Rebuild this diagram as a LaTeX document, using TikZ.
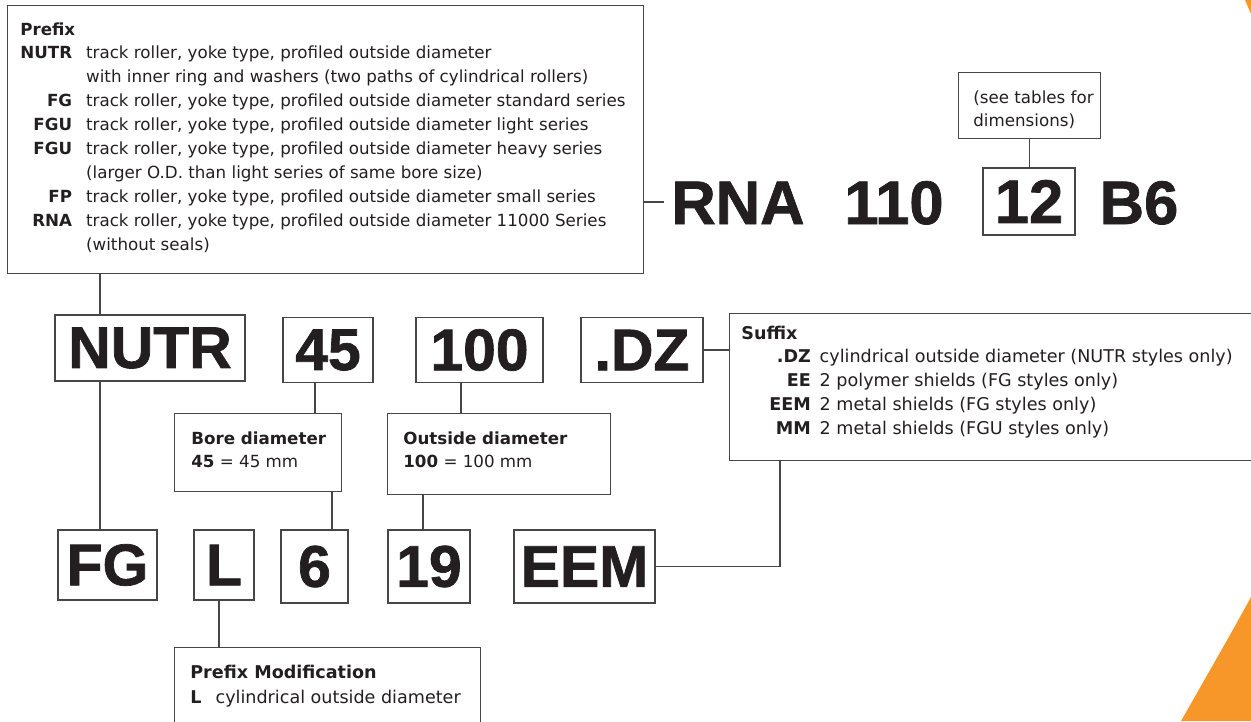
\documentclass[tikz,border=0pt]{standalone}
\usepackage{fontspec}
\setmainfont{DejaVu Sans}
\newfontfamily\codefont{Liberation Sans Bold}[FakeBold=1.2]
\usetikzlibrary{positioning}
\definecolor{tkorange}{RGB}{247,151,41}
\definecolor{ink}{RGB}{35,31,32}
\definecolor{rulegray}{RGB}{70,70,70}
\tikzset{
  wd/.style      ={minimum width=#1*0.02cm},
  ht/.style      ={minimum height=#1*0.02cm},
  codebox/.style ={draw=rulegray, line width=0.8pt, inner sep=0pt, text=ink,
                   font=\codefont\fontsize{33.5}{36}\selectfont},
  rnacode/.style ={inner sep=0pt, text=ink, anchor=base,
                   font=\codefont\fontsize{35}{38}\selectfont},
  infobox/.style ={draw=rulegray, line width=0.8pt, anchor=north west, inner sep=0pt},
  infotext/.style={anchor=base west, inner sep=0pt, text=ink,
                   font=\fontsize{9.5}{13.6}\selectfont},
  link/.style    ={draw=rulegray, line width=0.8pt},
}

\begin{document}
\begin{tikzpicture}[x=0.02cm, y=-0.02cm]
  \useasboundingbox (0,0) rectangle (1251,721);
  \clip (0,0) rectangle (1251,721);

  % ---- orange swoosh at the page edge ----
  \fill[tkorange] (1181,721) .. controls (1210,670) and (1232,632) .. (1251,597) -- (1251,721) -- cycle;
  \fill[tkorange] (1245,0) -- (1251,0) -- (1251,14) -- cycle;

  % ---- prefix legend ----
  \node[infobox, wd=636, ht=268] (prefixbox) at (7,5) {};
  \node[infotext] (prefixtxt) at (20,35) {\begin{tabular}[t]{@{}r@{\hspace{8pt}}l@{}}
      \multicolumn{2}{@{}l}{\textbf{Prefix}}\\
      \textbf{NUTR} & track roller, yoke type, profiled outside diameter\\
                    & with inner ring and washers (two paths of cylindrical rollers)\\
      \textbf{FG}   & track roller, yoke type, profiled outside diameter standard series\\
      \textbf{FGU}  & track roller, yoke type, profiled outside diameter light series\\
      \textbf{FGU}  & track roller, yoke type, profiled outside diameter heavy series\\
                    & (larger O.D. than light series of same bore size)\\
      \textbf{FP}   & track roller, yoke type, profiled outside diameter small series\\
      \textbf{RNA}  & track roller, yoke type, profiled outside diameter 11000 Series\\
                    & (without seals)
    \end{tabular}};

  % ---- RNA example ----
  \node[infobox, wd=142, ht=66] (seebox) at (958,72) {};
  \node[infotext] (seetxt) at (973,103) {\begin{tabular}[t]{@{}l@{}}(see tables for\\dimensions)\end{tabular}};
  \node[rnacode, anchor=base west] (rna) at (671,224) {RNA};
  \node[rnacode] (n110) at (894,224) {110};
  \node[codebox, wd=92, ht=67, font=\codefont\fontsize{35}{38}\selectfont] (n12) at (1029,201.5) {12};
  \node[rnacode] (nb6) at (1139,224) {B6};

  % ---- first row of codes ----
  \node[codebox, wd=190, ht=66] (nutr) at (150,348) {NUTR};
  \node[codebox, wd=90,  ht=65] (n45)  at (328,350) {45};
  \node[codebox, wd=127, ht=65] (n100) at (479.5,350) {100};
  \node[codebox, wd=122, ht=65] (ndz)  at (642,350) {.DZ};

  \node[infobox, wd=540, ht=147] (suffixbox) at (729,313) {};
  \node[infotext, font=\fontsize{10}{13.6}\selectfont] (suffixtxt) at (741,339)
    {\begin{tabular}[t]{@{\hspace{16pt}}r@{\hspace{5pt}}l@{}}
      \multicolumn{2}{@{}l}{\textbf{Suffix}}\\
      \textbf{.DZ} & cylindrical outside diameter (NUTR styles only)\\
      \textbf{EE}  & 2 polymer shields (FG styles only)\\
      \textbf{EEM} & 2 metal shields (FG styles only)\\
      \textbf{MM}  & 2 metal shields (FGU styles only)
    \end{tabular}};

  \node[infobox, wd=167, ht=78] (borebox) at (174,413) {};
  \node[infotext] (boretxt) at (191,444) {\begin{tabular}[t]{@{}l@{}}\textbf{Bore diameter}\\\textbf{45} = 45 mm\end{tabular}};
  \node[infobox, wd=223, ht=81] (outbox) at (387,413) {};
  \node[infotext] (outtxt) at (403,444) {\begin{tabular}[t]{@{}l@{}}\textbf{Outside diameter}\\\textbf{100} = 100 mm\end{tabular}};

  % ---- second row of codes ----
  \node[codebox, wd=99,  ht=70] (nfg)  at (107.5,565) {FG};
  \node[codebox, wd=60,  ht=70] (nl)   at (224,565) {L};
  \node[codebox, wd=67,  ht=73] (n6)   at (314.5,566.5) {6};
  \node[codebox, wd=82,  ht=73] (n19)  at (429,566.5) {19};
  \node[codebox, wd=141, ht=73] (neem) at (584.5,566.5) {EEM};

  \node[infobox, wd=306, ht=90] (modbox) at (174,647) {};
  \node[infotext, font=\fontsize{10}{14.6}\selectfont] (modtxt) at (190,678) {\begin{tabular}[t]{@{}l@{\hspace{8pt}}l@{}}
      \multicolumn{2}{@{}l}{\textbf{Prefix Modification}}\\
      \textbf{L} & cylindrical outside diameter
    \end{tabular}};

  % ---- leader lines ----
  \coordinate (xa) at (100,0);  \coordinate (xb) at (315,0);
  \coordinate (xc) at (332,0);  \coordinate (xd) at (461,0);
  \coordinate (xe) at (423,0);  \coordinate (xf) at (219,0);
  \coordinate (xg) at (780,0);  \coordinate (tick) at (664,202);
  \foreach \up/\down/\cx in {prefixbox/nutr/xa, nutr/nfg/xa, n45/borebox/xb, borebox/n6/xc,
                             n100/outbox/xd, outbox/n19/xe, nl/modbox/xf}
    \draw[link] (\up.south -| \cx) -- (\down.north -| \cx);
  \draw[link] (seebox.south) -- (seebox.south |- n12.north);
  \draw[link] (prefixbox.east |- tick) -- (tick);
  \draw[link] (ndz.east) -- (suffixbox.west |- ndz.east);
  \draw[link] (neem.east) -| (suffixbox.south -| xg);
\end{tikzpicture}
\end{document}
